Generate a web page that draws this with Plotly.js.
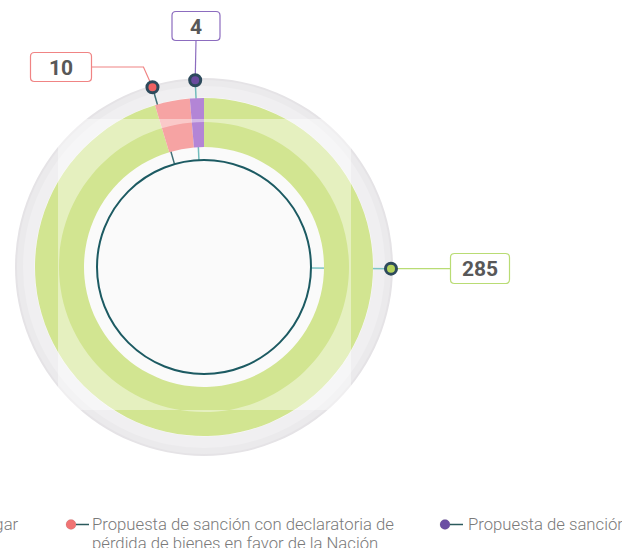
<!DOCTYPE html>
<html>
<head>
<meta charset="utf-8">
<script src="https://cdn.plot.ly/plotly-3.0.1.min.js"></script>
<style>
html,body{margin:0;padding:0;background:#ffffff;}
#chart{width:622px;height:548px;}
</style>
</head>
<body>
<div id="chart"></div>
<script>
// ---------- data ----------
const categories = [
  "No ha lugar",
  "Propuesta de sanción con declaratoria de pérdida de bienes en favor de la Nación",
  "Propuesta de sanción"
];
// legend text, split into the lines shown in the legend
const legendLines = [
  ["No ha lugar"],
  ["Propuesta de sanción con declaratoria de", "pérdida de bienes en favor de la Nación"],
  ["Propuesta de sanción"]
];
const values = [285, 10, 4];

// ---------- styling ----------
const sliceColors = ["#d2e591", "#f6a3a3", "#b385d6"];
const dotColors   = ["#b5d45c", "#ef6262", "#6a4b9e"];
const boxBorders  = ["#b9dc74", "#f08484", "#8c6cbf"];
const legendDotColors = ["#c5df6a", "#f07474", "#6b4fa3"];

const W = 622, H = 548;
const cx = 204, cy = 267;
const rOuter = 169, rHole = 120, rBand = 145, rRing = 187, rInner = 107, rDot = 187;

// callout anchor angles (deg, clockwise from 12 o'clock) and box placement
const calloutAngles = [90.5, -16, -2.7];
const boxCenters = [[480, 268.5], [61, 67], [196, 26]];
const boxSizes   = [[59, 30], [61, 29], [48, 29]];

// legend placement (marker x, text x, first-line y, line step)
const legendMarkerX = [-85, 71, 445];
const legendTextX   = [21, 90, 466];
const legendY = 524.5, legendStep = 18.5;

// ---------- helpers ----------
function polar(r, deg) {
  const a = deg * Math.PI / 180;
  return [cx + r * Math.sin(a), cy - r * Math.cos(a)];
}
function circleShape(r, fill, lineColor, lineWidth, layer) {
  return {type: "circle", xref: "x", yref: "y", layer: layer || "below",
    x0: cx - r, x1: cx + r, y0: cy - r, y1: cy + r,
    fillcolor: fill, line: {color: lineColor || "rgba(0,0,0,0)", width: lineWidth || 0}};
}
function circlePath(x, y, r) {
  const k = 0.5523 * r;
  return `M${x + r},${y} C${x + r},${y + k} ${x + k},${y + r} ${x},${y + r} ` +
         `C${x - k},${y + r} ${x - r},${y + k} ${x - r},${y} ` +
         `C${x - r},${y - k} ${x - k},${y - r} ${x},${y - r} ` +
         `C${x + k},${y - r} ${x + r},${y - k} ${x + r},${y} Z`;
}
function roundRectPath(x0, y0, x1, y1, r) {
  return `M${x0 + r},${y0} L${x1 - r},${y0} Q${x1},${y0} ${x1},${y0 + r} ` +
         `L${x1},${y1 - r} Q${x1},${y1} ${x1 - r},${y1} L${x0 + r},${y1} ` +
         `Q${x0},${y1} ${x0},${y1 - r} L${x0},${y0 + r} Q${x0},${y0} ${x0 + r},${y0} Z`;
}

// ---------- traces ----------
const pie = {
  type: "pie",
  values: values,
  labels: categories,
  sort: false,
  direction: "clockwise",
  rotation: 0,
  hole: rHole / rOuter,
  textinfo: "none",
  hoverinfo: "label+value",
  showlegend: false,
  marker: {colors: sliceColors, line: {color: "#ffffff", width: 0}},
  domain: {
    x: [(cx - rOuter) / W, (cx + rOuter) / W],
    y: [(H - cy - rOuter) / H, (H - cy + rOuter) / H]
  }
};

const dotPos = calloutAngles.map(a => polar(rDot, a));
const dots = {
  type: "scatter", mode: "markers", showlegend: false, hoverinfo: "skip",
  x: dotPos.map(p => p[0]), y: dotPos.map(p => p[1]),
  marker: {size: 11, color: dotColors, line: {color: "#2d4a5c", width: 3}},
  cliponaxis: false
};

const legendDots = {
  type: "scatter", mode: "markers", showlegend: false, hoverinfo: "skip",
  x: legendMarkerX, y: legendMarkerX.map(() => legendY),
  marker: {size: 10, color: legendDotColors, line: {color: "rgba(0,0,0,0.08)", width: 1}}
};

// ---------- shapes ----------
const shapes = [];
shapes.push(circleShape(rRing + 2, "#e5e3e6"));
shapes.push(circleShape(rRing, "#ebeaec"));
shapes.push(circleShape(rRing - 6, "#f0eff1"));
shapes.push(circleShape(rOuter + 0.5, "#fafafa"));

// radial teal lines from dot to inner circle
const tealColors = ["#7cc4c4", "#3f6f76", "#72bcbc"];
calloutAngles.forEach((a, i) => {
  const p0 = polar(rDot, a), p1 = polar(rInner, a);
  shapes.push({type: "line", xref: "x", yref: "y", layer: "below",
    x0: p0[0], y0: p0[1], x1: p1[0], y1: p1[1],
    line: {color: tealColors[i], width: 1.5}});
});
// inner dark circle
shapes.push(circleShape(rInner, "rgba(0,0,0,0)", "#1c5a62", 2));

// leader lines from dots to boxes
shapes.push({type: "line", xref: "x", yref: "y", layer: "below",
  x0: dotPos[0][0], y0: dotPos[0][1],
  x1: boxCenters[0][0] - boxSizes[0][0] / 2, y1: dotPos[0][1],
  line: {color: boxBorders[0], width: 1.2}});
{
  const bx = boxCenters[1][0] + boxSizes[1][0] / 2, by = boxCenters[1][1];
  shapes.push({type: "path", xref: "x", yref: "y", layer: "below",
    path: `M${bx},${by} L${dotPos[1][0] - 9},${by} L${dotPos[1][0]},${dotPos[1][1]}`,
    line: {color: boxBorders[1], width: 1.2}});
}
shapes.push({type: "line", xref: "x", yref: "y", layer: "below",
  x0: boxCenters[2][0], y0: boxCenters[2][1] + boxSizes[2][1] / 2,
  x1: dotPos[2][0], y1: dotPos[2][1],
  line: {color: boxBorders[2], width: 1.2}});

// rounded label boxes
boxCenters.forEach((c, i) => {
  const w = boxSizes[i][0], h = boxSizes[i][1];
  shapes.push({type: "path", xref: "x", yref: "y", layer: "below",
    path: roundRectPath(c[0] - w / 2, c[1] - h / 2, c[0] + w / 2, c[1] + h / 2, 4),
    fillcolor: "#ffffff", line: {color: boxBorders[i], width: 1.2}});
});

// translucent square overlay with a circular window
shapes.push({type: "path", xref: "x", yref: "y", layer: "above", fillrule: "evenodd",
  path: `M58,119 L351,119 L351,410 L58,410 Z ` + circlePath(cx, cy, rBand),
  fillcolor: "rgba(255,255,255,0.42)", line: {width: 0}});

// legend connector lines
legendMarkerX.forEach(x => {
  shapes.push({type: "line", xref: "x", yref: "y", layer: "below",
    x0: x + 5, x1: x + 18, y0: legendY, y1: legendY,
    line: {color: "#2b5a5c", width: 1.5}});
});

// ---------- annotations ----------
const annotations = [];
values.forEach((v, i) => {
  annotations.push({
    xref: "x", yref: "y", x: boxCenters[i][0], y: boxCenters[i][1] + 0.5,
    xanchor: "center", yanchor: "middle", showarrow: false,
    text: String(v),
    font: {family: "Roboto, 'Open Sans', sans-serif", size: 21, color: "#585858", weight: "bold"}
  });
});
legendLines.forEach((lines, i) => {
  lines.forEach((t, j) => {
    annotations.push({
      xref: "x", yref: "y", x: legendTextX[i], y: legendY + j * legendStep,
      xanchor: i === 0 ? "right" : "left", yanchor: "middle", align: "left",
      showarrow: false, text: t,
      font: {family: "Roboto, 'Noto Sans', sans-serif", size: 16.7, color: "#7a7a7a", weight: 300}
    });
  });
});

const layout = {
  width: W, height: H,
  margin: {l: 0, r: 0, t: 0, b: 0, pad: 0},
  paper_bgcolor: "#ffffff", plot_bgcolor: "rgba(0,0,0,0)",
  showlegend: false,
  xaxis: {range: [0, W], visible: false, fixedrange: true, showgrid: false, zeroline: false},
  yaxis: {range: [H, 0], visible: false, fixedrange: true, showgrid: false, zeroline: false},
  shapes: shapes,
  annotations: annotations
};

Plotly.newPlot("chart", [dots, legendDots, pie], layout, {displayModeBar: false, staticPlot: true});
</script>
</body>
</html>
